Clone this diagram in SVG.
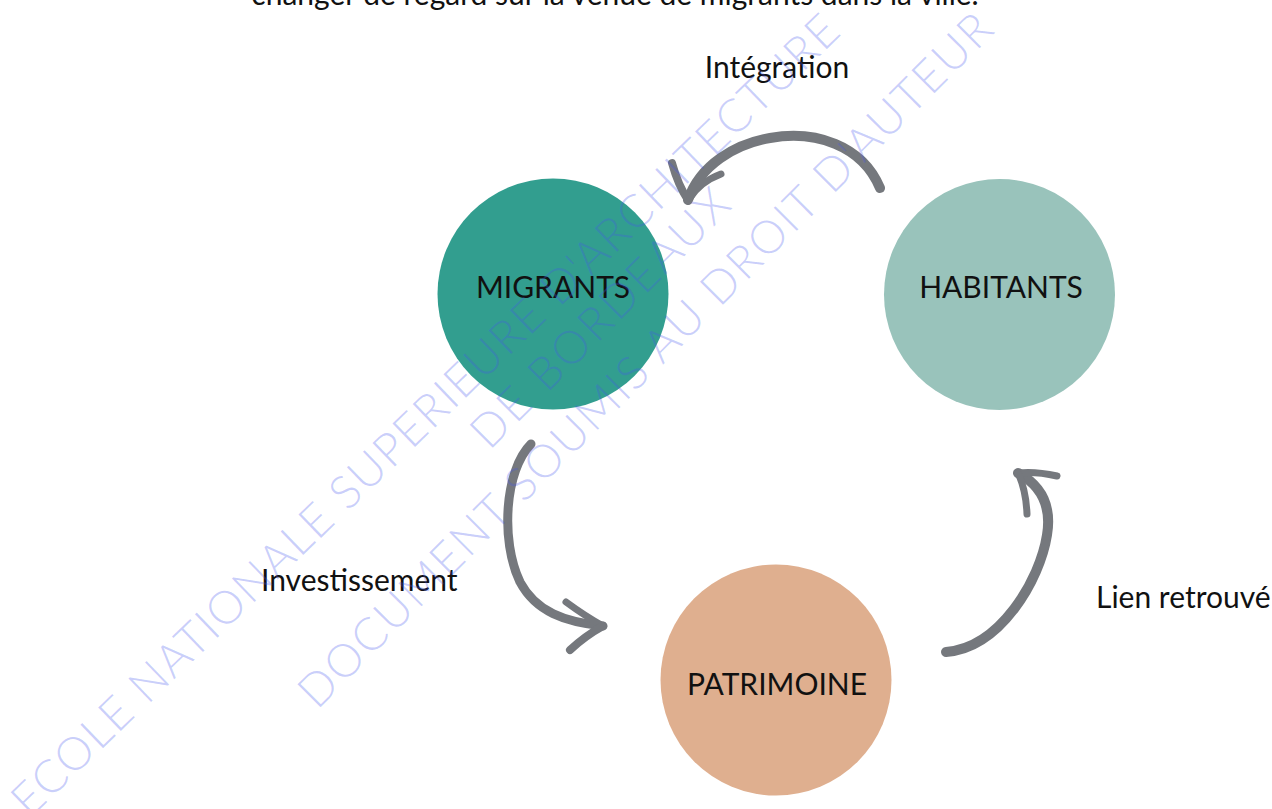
<svg xmlns="http://www.w3.org/2000/svg" width="1272" height="809" viewBox="0 0 1272 809">
<style>
.lbl{font-family:Lato,"Noto Sans","Liberation Sans",sans-serif;font-size:30px;fill:#111;}
.node{font-family:Lato,"Noto Sans","Liberation Sans",sans-serif;font-size:30px;fill:#111;text-anchor:middle;}
.arr{fill:none;stroke:#75787d;stroke-linecap:round;stroke-linejoin:round;}
.wm{font-family:Lato,"Noto Sans","Liberation Sans",sans-serif;font-weight:300;font-size:46px;fill:#4455ee;fill-opacity:0.28;text-anchor:middle;}
</style>
<rect width="1272" height="809" fill="#fff"/>
<text class="lbl" x="615" y="5" text-anchor="middle" font-size="31">changer de regard sur la venue de migrants dans la ville.</text>
<g id="connectors">
<g id="c-integration">
<path class="arr" stroke-width="10" d="M 880 188 C 862 145 815 130 770 138 C 735 144 700 165 688 200"/>
<path class="arr" stroke-width="8" d="M 672 163 Q 678 185 688 200"/>
<path class="arr" stroke-width="7" d="M 721 174 Q 700 182 690 198"/>
</g>
<g id="c-investissement">
<path class="arr" stroke-width="9" d="M 531 444 C 505 470 500 540 520 582 C 536 612 565 622 603 626"/>
<path class="arr" stroke-width="7" d="M 566 602 Q 585 616 603 626"/>
<path class="arr" stroke-width="8" d="M 570 650 Q 585 636 603 626"/>
</g>
<g id="c-lien">
<path class="arr" stroke-width="10" d="M 946 652 C 1000 648 1040 580 1047 535 C 1052 505 1040 485 1018 473"/>
<path class="arr" stroke-width="7" d="M 1057 476 Q 1035 471 1018 473"/>
<path class="arr" stroke-width="7" d="M 1027 514 Q 1026 490 1018 473"/>
</g>
</g>
<text class="lbl" x="777" y="78" text-anchor="middle">Intégration</text>
<text class="lbl" x="261" y="591">Investissement</text>
<text class="lbl" x="1096" y="608">Lien retrouvé</text>
<g id="n-migrants">
<circle cx="553" cy="294" r="115.5" fill="#329e8f"/>
<text class="node" x="553" y="298">MIGRANTS</text>
</g>
<g id="n-habitants">
<circle cx="999.5" cy="294.5" r="115.5" fill="#99c3bb"/>
<text class="node" x="1001" y="298">HABITANTS</text>
</g>
<g id="n-patrimoine">
<circle cx="776" cy="680" r="115.5" fill="#dfaf8f"/>
<text class="node" x="777" y="695">PATRIMOINE</text>
</g>
<g id="watermark">
<text class="wm" transform="translate(425 415) rotate(-44)" x="0" y="16" textLength="1130" lengthAdjust="spacing">ECOLE NATIONALE SUPERIEURE D'ARCHITECTURE</text>
<text class="wm" transform="translate(600 318) rotate(-45)" x="0" y="16" textLength="345" lengthAdjust="spacing">DE BORDEAUX</text>
<text class="wm" transform="translate(645 360) rotate(-45)" x="0" y="16" textLength="960" lengthAdjust="spacing">DOCUMENT SOUMIS AU DROIT D'AUTEUR</text>
</g>
</svg>
